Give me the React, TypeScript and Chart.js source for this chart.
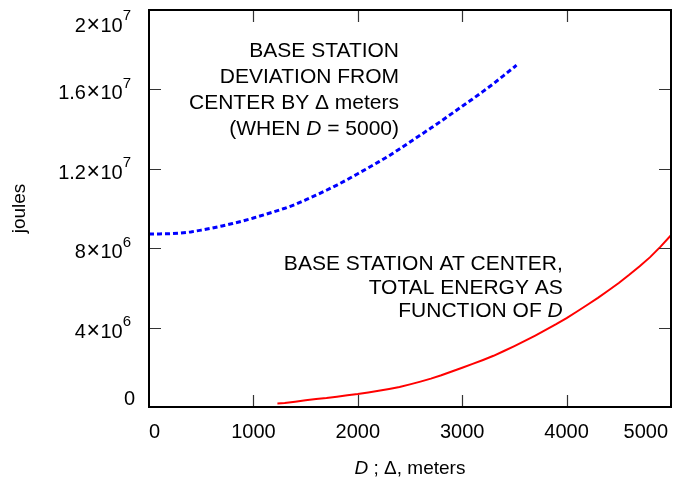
import { useEffect, useRef } from "react";
import { Chart, registerables } from "chart.js";

Chart.register(...registerables);

// ---- data ----
const blueDelta = [0, 100, 200, 300, 400, 500, 600, 700, 800, 900, 1000, 1100, 1200, 1300, 1400, 1500, 1600, 1700, 1800, 1900, 2000, 2100, 2200, 2300, 2400, 2500, 2600, 2700, 2800, 2900, 3000, 3100, 3200, 3300, 3400, 3500, 3520];
const blueJoules = [8.72e6, 8.72e6, 8.73e6, 8.76e6, 8.82e6, 8.91e6, 9.01e6, 9.12e6, 9.24e6, 9.37e6, 9.52e6, 9.68e6, 9.84e6, 1.001e7, 1.02e7, 1.043e7, 1.067e7, 1.092e7, 1.118e7, 1.146e7, 1.175e7, 1.205e7, 1.235e7, 1.266e7, 1.3e7, 1.335e7, 1.37e7, 1.405e7, 1.441e7, 1.478e7, 1.515e7, 1.552e7, 1.59e7, 1.629e7, 1.671e7, 1.713e7, 1.722e7];

const redD = [1230, 1300, 1400, 1500, 1600, 1700, 1800, 1900, 2000, 2100, 2200, 2300, 2400, 2500, 2600, 2700, 2800, 2900, 3000, 3100, 3200, 3300, 3400, 3500, 3600, 3700, 3800, 3900, 4000, 4100, 4200, 4300, 4400, 4500, 4600, 4700, 4800, 4900, 5000];
const redJoules = [1.8e5, 2.0e5, 2.7e5, 3.4e5, 4.0e5, 4.5e5, 5.2e5, 5.9e5, 6.5e5, 7.3e5, 8.2e5, 9.1e5, 1.01e6, 1.14e6, 1.28e6, 1.43e6, 1.6e6, 1.79e6, 1.98e6, 2.17e6, 2.37e6, 2.58e6, 2.82e6, 3.07e6, 3.33e6, 3.6e6, 3.88e6, 4.17e6, 4.48e6, 4.81e6, 5.15e6, 5.5e6, 5.87e6, 6.25e6, 6.66e6, 7.09e6, 7.55e6, 8.08e6, 8.65e6];

const xTicks = [0, 1000, 2000, 3000, 4000, 5000];
const xTickLabels = ["0", "1000", "2000", "3000", "4000", "5000"];
const yTicks = [0, 4e6, 8e6, 1.2e7, 1.6e7, 2e7];
const yTickMantissa = ["0", "4", "8", "1.2", "1.6", "2"];
const yTickExponent = ["", "6", "6", "7", "7", "7"];

const xTitle: [string, boolean][] = [["D", true], [" ; \u0394, meters", false]];
const yTitle = "joules";

const note1: [string, boolean][][] = [
  [["BASE STATION", false]],
  [["DEVIATION FROM", false]],
  [["CENTER BY \u0394 meters", false]],
  [["(WHEN ", false], ["D", true], [" = 5000)", false]],
];
const note2: [string, boolean][][] = [
  [["BASE STATION AT CENTER,", false]],
  [["TOTAL ENERGY AS", false]],
  [["FUNCTION OF ", false], ["D", true]],
];
// anchors (data coords) of the right edge / first baseline of the notes
const note1Anchor = { x: 2395, y: 1.764e7 };
const note2Anchor = { x: 3963, y: 6.89e6 };

const FAMILY = '"Liberation Sans", Arial, Helvetica, sans-serif';
const font = (size: number, italic = false) => `${italic ? "italic " : ""}${size}px ${FAMILY}`;

function drawRuns(ctx: CanvasRenderingContext2D, runs: [string, boolean][], x: number, y: number, align: "left" | "right" | "center", size: number) {
  const widths = runs.map(([t, it]) => {
    ctx.font = font(size, it);
    return ctx.measureText(t).width;
  });
  const total = widths.reduce((a, b) => a + b, 0);
  let sx = align === "right" ? x - total : align === "center" ? x - total / 2 : x;
  ctx.textAlign = "left";
  ctx.textBaseline = "alphabetic";
  runs.forEach(([t, it], i) => {
    ctx.font = font(size, it);
    ctx.fillText(t, sx, y);
    sx += widths[i];
  });
}

const decorPlugin = {
  id: "decor",
  afterDatasetsDraw(chart: any) {
    const { ctx, chartArea: ca, scales } = chart;
    const xs = scales.x;
    const ys = scales.y;
    ctx.save();
    // inward ticks on all four sides
    ctx.strokeStyle = "#333";
    ctx.lineWidth = 1.2;
    const TL = 12;
    ctx.beginPath();
    xTicks.forEach((v) => {
      if (v === xs.min || v === xs.max) return;
      const px = Math.round(xs.getPixelForValue(v)) + 0.5;
      ctx.moveTo(px, ca.bottom);
      ctx.lineTo(px, ca.bottom - TL);
      ctx.moveTo(px, ca.top);
      ctx.lineTo(px, ca.top + TL);
    });
    yTicks.forEach((v) => {
      if (v === ys.min || v === ys.max) return;
      const py = Math.round(ys.getPixelForValue(v)) + 0.5;
      ctx.moveTo(ca.left, py);
      ctx.lineTo(ca.left + TL, py);
      ctx.moveTo(ca.right, py);
      ctx.lineTo(ca.right - TL, py);
    });
    ctx.stroke();
    // frame
    ctx.strokeStyle = "#000";
    ctx.lineWidth = 2;
    ctx.strokeRect(ca.left, ca.top, ca.right - ca.left, ca.bottom - ca.top);

    ctx.fillStyle = "#000";
    // x tick labels
    const xSize = 20;
    ctx.font = font(xSize);
    ctx.textBaseline = "alphabetic";
    xTicks.forEach((v, i) => {
      const px = xs.getPixelForValue(v);
      const w = ctx.measureText(xTickLabels[i]).width;
      let left = px - w / 2;
      if (left < ca.left) left = ca.left;
      if (left + w > ca.right - 3) left = ca.right - 3 - w;
      ctx.textAlign = "left";
      ctx.fillText(xTickLabels[i], left, ca.bottom + 31);
    });

    // y tick labels (mantissa x 10^exp)
    const ySize = 20;
    const supSize = 15;
    const rightEdge = ca.left - 18;
    yTicks.forEach((v, i) => {
      const py = ys.getPixelForValue(v);
      const exp = yTickExponent[i];
      const mant = yTickMantissa[i];
      ctx.textAlign = "left";
      if (!exp) {
        ctx.font = font(ySize);
        const w = ctx.measureText(mant).width;
        let base = py + 7;
        if (base > ca.bottom - 2) base = ca.bottom - 2;
        ctx.fillText(mant, rightEdge + 4 - w, base);
        return;
      }
      ctx.font = font(supSize);
      const ws = ctx.measureText(exp).width;
      ctx.font = font(ySize);
      const wm = ctx.measureText(mant).width;
      const wt = ctx.measureText("10").width;
      ctx.font = font(ySize + 3);
      const wx = ctx.measureText("\u00d7").width;
      const gap = 0.5;
      const total = wm + gap + wx + gap + wt + ws;
      let base = py + 10;
      if (base - 21.5 < ca.top) base = ca.top + 21.5;
      let sx = rightEdge - total;
      ctx.font = font(ySize);
      ctx.fillText(mant, sx, base);
      sx += wm + gap;
      ctx.font = font(ySize + 3);
      ctx.fillText("\u00d7", sx, base);
      sx += wx + gap;
      ctx.font = font(ySize);
      ctx.fillText("10", sx, base);
      sx += wt;
      ctx.font = font(supSize);
      ctx.fillText(exp, sx, base - 11.5);
    });

    // axis titles
    drawRuns(ctx, xTitle, (ca.left + ca.right) / 2, 474, "center", 19);
    ctx.save();
    ctx.translate(25, (ca.top + ca.bottom) / 2);
    ctx.rotate(-Math.PI / 2);
    ctx.font = font(19);
    ctx.textAlign = "center";
    ctx.textBaseline = "alphabetic";
    ctx.fillText(yTitle, 0, 0);
    ctx.restore();

    // notes
    const n1x = xs.getPixelForValue(note1Anchor.x);
    const n1y = ys.getPixelForValue(note1Anchor.y);
    note1.forEach((runs, i) => drawRuns(ctx, runs, n1x, n1y + i * 26, "right", 21));
    const n2x = xs.getPixelForValue(note2Anchor.x);
    const n2y = ys.getPixelForValue(note2Anchor.y);
    note2.forEach((runs, i) => drawRuns(ctx, runs, n2x, n2y + i * 23.4, "right", 21));

    ctx.restore();
  },
};

export default function App() {
  const ref = useRef<HTMLCanvasElement | null>(null);
  useEffect(() => {
    if (!ref.current) return;
    const chart = new Chart(ref.current, {
      type: "line",
      data: {
        datasets: [
          {
            label: "deviation",
            data: blueDelta.map((d, i) => ({ x: d, y: blueJoules[i] })),
            borderColor: "#0000ff",
            borderWidth: 3,
            borderDash: [5, 3],
            pointRadius: 0,
            tension: 0,
            fill: false,
          },
          {
            label: "center",
            data: redD.map((d, i) => ({ x: d, y: redJoules[i] })),
            borderColor: "#ff0000",
            borderWidth: 2,
            pointRadius: 0,
            tension: 0,
            fill: false,
          },
        ],
      },
      options: {
        animation: false,
        responsive: false,
        layout: { padding: { top: 10, right: 4, left: 0, bottom: 0 } },
        plugins: { legend: { display: false }, tooltip: { enabled: false }, title: { display: false } },
        scales: {
          x: {
            type: "linear",
            min: 0,
            max: 5000,
            grid: { display: false },
            border: { display: false },
            ticks: { display: false },
            afterFit: (s: any) => {
              s.height = 76;
            },
          },
          y: {
            type: "linear",
            min: 0,
            max: 2e7,
            grid: { display: false },
            border: { display: false },
            ticks: { display: false },
            afterFit: (s: any) => {
              s.width = 149;
            },
          },
        },
      },
      plugins: [decorPlugin],
    });
    return () => chart.destroy();
  }, []);
  return (
    <div style={{ position: "absolute", left: 0, top: 0, width: 675, height: 483, background: "#fff" }}>
      <canvas ref={ref} width={675} height={483} style={{ display: "block" }} />
    </div>
  );
}
